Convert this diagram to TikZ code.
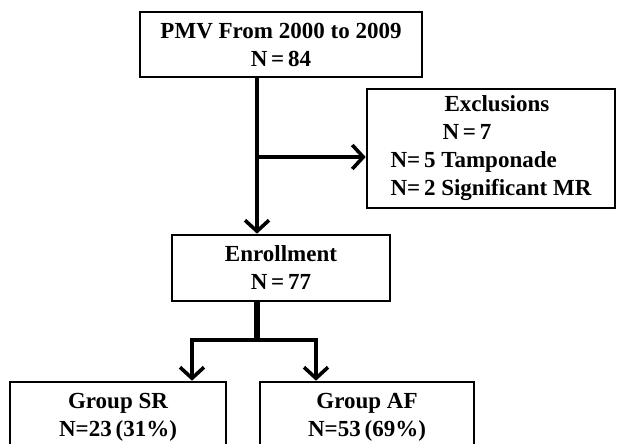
\documentclass[tikz,border=0pt]{standalone}
\usepackage{fontspec}
\setmainfont{Liberation Serif}
\usetikzlibrary{arrows.meta}
\begin{document}
\begin{tikzpicture}[x=1pt,y=-1pt,
  box/.style={draw, line width=2.6pt, inner sep=0pt, align=center,
    font=\fontsize{23}{28}\selectfont\bfseries},
  conn/.style={line width=3.6pt, line join=miter},
  barb/.tip={Straight Barb[length=11pt,width=24pt,line width=3.6pt]},
  arr/.style={conn, -barb}
]
\useasboundingbox (0,0) rectangle (619,444);
\clip (0,0) rectangle (619,444);
\fill[white] (0,0) rectangle (619,444);

\node[box, minimum width=282, minimum height=65] (top) at (281,44.5)
  {PMV From 2000 to 2009\\N\,=\,84};
\node[box, minimum width=248, minimum height=119, align=left] (excl) at (491,148.5)
  {\hspace*{54pt}Exclusions\\\hspace*{52pt}N\,=\,7\\N=\,5 Tamponade\\N=\,2 Significant MR};
\node[box, minimum width=218, minimum height=66] (enr) at (281,268)
  {Enrollment\\N\,=\,77};
\node[box, minimum width=216, minimum height=70] (sr) at (118,417)
  {Group SR\\N=23\,(31\%)};
\node[box, minimum width=214, minimum height=70] (af) at (367,417)
  {Group AF\\N=53\,(69\%)};

\coordinate (j1) at (257,157);
\coordinate (j2) at (257,340);
\coordinate (bl) at (192,340);
\coordinate (br) at (316,340);

\draw[arr] (top.south -| j1) -- (enr.north -| j1);
\draw[arr] (j1) -- (excl.west |- j1);
\draw[line width=6pt] (enr.south -| j2) -- (j2);
\draw[conn, barb-barb] (sr.north -| bl) -- (bl) -- (br) -- (af.north -| br);
\end{tikzpicture}
\end{document}
